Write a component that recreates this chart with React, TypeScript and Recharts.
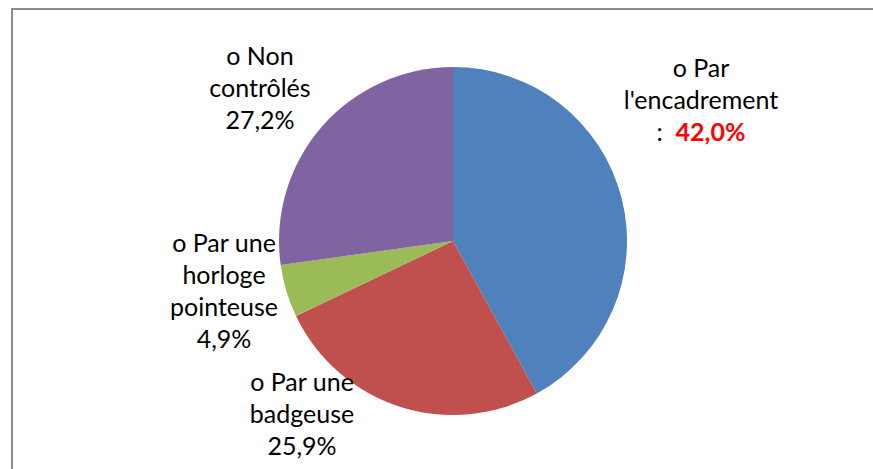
import { PieChart, Pie, Cell } from "recharts";

const categories = ["Par l'encadrement", "Par une badgeuse", "Par une horloge pointeuse", "Non contrôlés"];
const shares = [42.0, 25.9, 4.9, 27.2];
const colors = ["#4F81BD", "#C0504D", "#9BBB59", "#8064A2"];
const labelLines = [
  ["o Par", "l'encadrement"],
  ["o Par une", "badgeuse"],
  ["o Par une", "horloge", "pointeuse"],
  ["o Non", "contrôlés"],
];

const data = categories.map((name, i) => ({ name, value: shares[i] }));

// label placement (offset of first baseline from pie centre), as laid out in the original
const labelSpots = [
  { dx: 248, dy: -164 },
  { dx: -151, dy: 150 },
  { dx: -229, dy: 11 },
  { dx: -193, dy: -176 },
];

const LINE_H = 32;
const FONT = 25;
const fmt = (v: number) => v.toFixed(1).replace(".", ",") + "%";

const renderLabel = (props: any) => {
  const { cx, cy, index, value } = props;
  const spot = labelSpots[index];
  const x = cx + spot.dx;
  const y0 = cy + spot.dy;
  const lines = labelLines[index];
  return (
    <g key={"lbl" + index}>
      {lines.map((l, j) => (
        <text key={j} x={x} y={y0 + j * LINE_H} textAnchor="middle" fill="#000" fontSize={FONT}>
          {l}
        </text>
      ))}
      {index === 0 ? (
        <text x={x} y={y0 + lines.length * LINE_H} textAnchor="middle" fontSize={FONT}>
          <tspan fill="#000">{":\u00a0\u00a0"}</tspan>
          <tspan fill="#FF0000" fontWeight="bold">{fmt(value)}</tspan>
        </text>
      ) : (
        <text x={x} y={y0 + lines.length * LINE_H} textAnchor="middle" fill="#000" fontSize={FONT}>
          {fmt(value)}
        </text>
      )}
    </g>
  );
};

export default function App() {
  return (
    <div style={{ position: "absolute", left: 0, top: 0, width: 873, height: 469, background: "#fff", fontFamily: "Lato, 'Open Sans', sans-serif", overflow: "hidden" }}>
      <svg width={873} height={469} style={{ position: "absolute", left: 0, top: 0 }}>
        <path d="M12 469 V9 H873" fill="none" stroke="#8c8c8c" strokeWidth={2} />
      </svg>
      <PieChart width={873} height={469} margin={{ top: 0, right: 0, bottom: 0, left: 0 }} style={{ position: "absolute", left: 0, top: 0 }}>
        <Pie
          data={data}
          dataKey="value"
          cx={453}
          cy={241}
          outerRadius={174}
          startAngle={90}
          endAngle={-270}
          stroke="none"
          label={renderLabel}
          labelLine={false}
          isAnimationActive={false}
        >
          {data.map((d, i) => (
            <Cell key={d.name} fill={colors[i]} />
          ))}
        </Pie>
      </PieChart>
    </div>
  );
}
